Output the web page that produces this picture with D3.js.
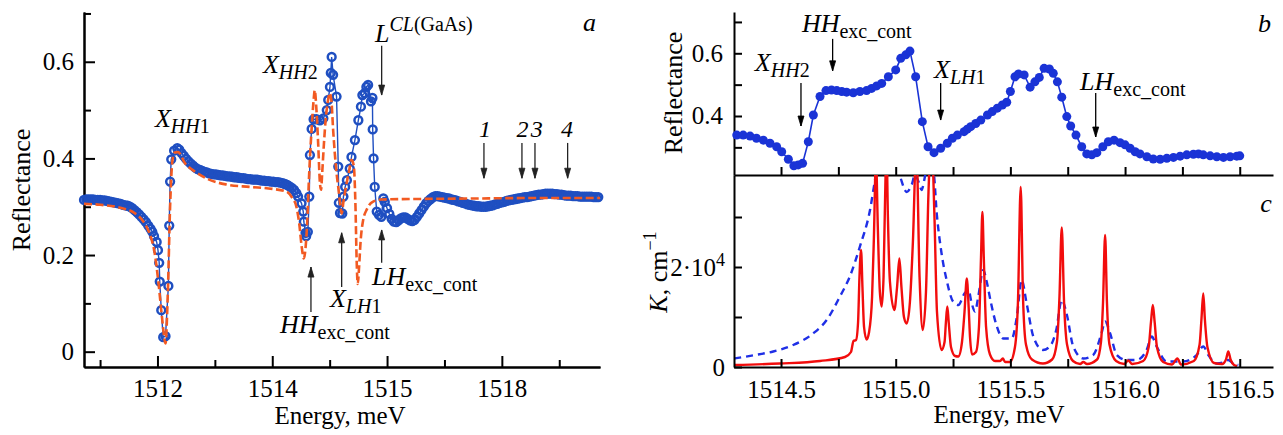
<!DOCTYPE html>
<html lang="en">
<head>
<meta charset="UTF-8">
<title>Reflectance and absorption spectra</title>
<script src="https://d3js.org/d3.v7.min.js"></script>
<style>
  body { margin: 0; background: #fff; }
  svg { display: block; }
  svg text { font-family: "Liberation Serif", serif; fill: #000; }
  .axis path, .axis line { stroke: #000; stroke-width: 2; }
  .axis text { font-size: 25px; }
</style>
</head>
<body>
<svg id="vis" width="1283" height="435"></svg>
<script>
// ---- panel a: measured reflectance (energy meV, R) ----
const measuredA = [
  [1510.72,.314],[1510.76,.315],[1510.80,.315],[1510.84,.315],[1510.88,.315],[1510.92,.314],[1510.96,.314],[1511.00,.314],
  [1511.04,.313],[1511.08,.313],[1511.12,.312],[1511.16,.311],[1511.20,.310],[1511.24,.309],[1511.28,.308],[1511.32,.307],
  [1511.36,.306],[1511.40,.304],[1511.44,.303],[1511.48,.302],[1511.52,.300],[1511.56,.297],[1511.60,.293],[1511.64,.289],
  [1511.68,.284],[1511.72,.279],[1511.76,.274],[1511.80,.268],[1511.84,.261],[1511.88,.254],[1511.91,.248],
  [1511.94,.239],[1511.986,.227],[1512.009,.210],[1512.03,.184],[1512.04,.145],[1512.066,.086],[1512.10,.030],[1512.14,.032],
  [1512.19,.136],[1512.205,.261],[1512.22,.352],[1512.24,.398],[1512.29,.416],[1512.345,.421],
  [1512.38,.418],[1512.42,.411],[1512.46,.405],[1512.50,.399],[1512.54,.394],[1512.58,.389],[1512.62,.385],[1512.66,.381],
  [1512.70,.378],[1512.74,.376],[1512.78,.374],[1512.82,.372],[1512.86,.371],[1512.90,.369],[1512.94,.368],[1512.98,.367],
  [1513.02,.367],[1513.06,.366],[1513.10,.365],[1513.14,.365],[1513.18,.364],[1513.22,.363],[1513.26,.363],[1513.30,.362],
  [1513.34,.361],[1513.38,.361],[1513.42,.360],[1513.46,.359],[1513.50,.359],[1513.54,.358],[1513.58,.357],[1513.62,.357],
  [1513.66,.356],[1513.70,.356],[1513.74,.356],[1513.78,.355],[1513.82,.354],[1513.86,.354],[1513.90,.353],[1513.94,.353],
  [1513.98,.352],[1514.02,.352],[1514.06,.351],[1514.10,.351],[1514.14,.350],[1514.18,.349],[1514.22,.347],[1514.26,.345],
  [1514.30,.342],[1514.34,.339],[1514.38,.335],[1514.42,.328],
  [1514.45,.321],[1514.51,.307],[1514.54,.290],[1514.55,.269],[1514.58,.246],[1514.59,.239],[1514.62,.248],[1514.645,.321],
  [1514.656,.407],[1514.686,.461],[1514.72,.481],[1514.77,.481],[1514.83,.479],[1514.89,.483],[1514.95,.500],[1514.975,.521],
  [1515.005,.548],[1515.02,.577],[1515.035,.610],[1515.06,.573],[1515.12,.528],[1515.15,.383],[1515.16,.308],[1515.18,.287],
  [1515.22,.286],[1515.24,.321],[1515.27,.341],[1515.30,.355],[1515.35,.379],[1515.38,.403],[1515.44,.438],[1515.50,.479],
  [1515.545,.507],[1515.57,.531],[1515.61,.535],[1515.64,.548],[1515.67,.552],[1515.72,.518],[1515.745,.525],[1515.75,.460],
  [1515.765,.400],[1515.785,.341],[1515.82,.290],[1515.86,.283],[1515.90,.279],[1515.935,.317],
  [1515.96,.310],[1516.00,.297],[1516.04,.285],[1516.08,.275],[1516.12,.269],[1516.16,.268],[1516.20,.272],[1516.24,.276],
  [1516.28,.278],[1516.32,.278],[1516.36,.275],[1516.40,.272],[1516.44,.270],[1516.48,.273],[1516.52,.279],[1516.56,.286],
  [1516.60,.293],[1516.64,.300],[1516.68,.307],[1516.72,.312],[1516.76,.316],[1516.80,.320],[1516.84,.322],[1516.88,.322],
  [1516.92,.321],[1516.96,.320],[1517.00,.319],[1517.04,.318],[1517.08,.317],[1517.12,.315],[1517.16,.314],[1517.20,.313],
  [1517.24,.311],[1517.28,.310],[1517.32,.308],[1517.36,.307],[1517.40,.305],[1517.44,.304],[1517.48,.303],[1517.52,.302],
  [1517.56,.301],[1517.60,.301],[1517.64,.300],[1517.68,.300],[1517.72,.300],[1517.76,.301],[1517.80,.302],[1517.84,.303],
  [1517.88,.305],[1517.92,.306],[1517.96,.308],[1518.00,.309],[1518.04,.310],[1518.08,.312],[1518.12,.313],[1518.16,.314],
  [1518.20,.315],[1518.24,.316],[1518.28,.317],[1518.32,.318],[1518.36,.319],[1518.40,.320],[1518.44,.320],[1518.48,.321],
  [1518.52,.322],[1518.56,.323],[1518.60,.324],[1518.64,.325],[1518.68,.325],[1518.72,.326],[1518.76,.327],[1518.80,.327],
  [1518.84,.327],[1518.88,.327],[1518.92,.326],[1518.96,.326],[1519.00,.325],[1519.04,.325],[1519.08,.324],[1519.12,.323],
  [1519.16,.323],[1519.20,.323],[1519.24,.322],[1519.28,.322],[1519.32,.322],[1519.36,.321],[1519.40,.321],[1519.44,.321],
  [1519.48,.321],[1519.52,.321],[1519.56,.321],[1519.60,.320],[1519.64,.320],[1519.68,.320]
];

// ---- panel a: calculated reflectance ----
const calcA = [
  [1510.72,.306],[1511.0,.304],[1511.35,.298],[1511.6,.287],[1511.75,.270],[1511.85,.248],[1511.95,.205],[1512.02,.140],
  [1512.08,.070],[1512.14,.017],[1512.18,.120],[1512.22,.300],[1512.26,.395],[1512.30,.412],[1512.36,.413],[1512.48,.390],
  [1512.65,.373],[1512.9,.356],[1513.2,.346],[1513.6,.341],[1514.0,.337],[1514.25,.331],[1514.35,.318],[1514.42,.300],
  [1514.47,.265],[1514.51,.220],[1514.55,.193],[1514.58,.215],[1514.61,.270],[1514.64,.360],[1514.68,.450],[1514.72,.520],
  [1514.74,.541],[1514.77,.500],[1514.80,.430],[1514.83,.350],[1514.85,.335],[1514.87,.370],[1514.90,.430],[1514.93,.480],
  [1514.965,.515],[1515.0,.535],[1515.03,.520],[1515.06,.460],[1515.09,.410],[1515.12,.370],[1515.15,.340],[1515.19,.300],
  [1515.21,.286],[1515.24,.310],[1515.29,.345],[1515.34,.375],[1515.38,.397],[1515.42,.385],[1515.45,.300],[1515.47,.190],
  [1515.49,.140],[1515.51,.170],[1515.54,.230],[1515.58,.270],[1515.65,.295],[1515.75,.310],[1515.9,.315],[1516.5,.316],
  [1517.5,.317],[1518.5,.318],[1519.71,.318]
];

// ---- panel b: measured reflectance, fine scan ----
const measuredB = [
  [1514.307,.339],[1514.335,.339],[1514.365,.336],[1514.393,.329],[1514.423,.323],[1514.452,.313],[1514.481,.302],
  [1514.503,.286],[1514.532,.262],[1514.556,.241],[1514.575,.244],[1514.594,.249],[1514.619,.318],[1514.641,.403],
  [1514.67,.462],[1514.696,.481],[1514.72,.483],[1514.743,.481],[1514.765,.478],[1514.786,.476],[1514.815,.474],
  [1514.844,.478],[1514.873,.481],[1514.895,.488],[1514.917,.496],[1514.939,.504],[1514.968,.525],[1515.0,.547],
  [1515.022,.584],[1515.044,.595],[1515.062,.607],[1515.087,.525],[1515.116,.382],[1515.141,.302],[1515.167,.283],
  [1515.196,.297],[1515.225,.313],[1515.247,.329],[1515.269,.339],[1515.298,.350],[1515.312,.358],[1515.327,.366],
  [1515.349,.376],[1515.371,.387],[1515.40,.403],[1515.421,.414],[1515.443,.425],[1515.465,.435],[1515.484,.444],
  [1515.50,.478],[1515.52,.525],[1515.535,.534],[1515.56,.531],[1515.586,.492],[1515.607,.509],[1515.626,.523],
  [1515.647,.552],[1515.67,.550],[1515.687,.536],[1515.705,.509],[1515.724,.460],[1515.746,.398],[1515.763,.368],
  [1515.786,.339],[1515.811,.302],[1515.833,.279],[1515.855,.276],[1515.877,.283],[1515.903,.302],[1515.927,.318],
  [1515.952,.323],[1515.978,.315],[1516.0,.308],[1516.022,.297],[1516.044,.286],[1516.065,.279],[1516.095,.270],
  [1516.123,.263],[1516.153,.262],[1516.182,.265],[1516.211,.268],[1516.24,.272],[1516.269,.276],[1516.298,.278],
  [1516.32,.279],[1516.341,.276],[1516.371,.273],[1516.40,.270],[1516.429,.268],[1516.458,.270],[1516.487,.272],
  [1516.50,.273]
];

// ---- panel c: absorption coefficient, units of 1e4 cm^-1 ----
const absorptionSharp = [
  [1514.296,.04],[1514.495,.07],[1514.67,.12],[1514.779,.2],[1514.805,.3],[1514.816,.52],[1514.827,.54],[1514.836,.9],
  [1514.842,1.8],[1514.849,2.34],[1514.855,1.6],[1514.862,.8],[1514.873,.55],[1514.884,.7],[1514.897,1.4],[1514.905,2.6],
  [1514.914,4.2],[1514.922,2.8],[1514.931,1.5],[1514.939,1.21],[1514.947,1.8],[1514.953,3.2],[1514.96,4.4],[1514.966,3.0],
  [1514.975,1.7],[1514.994,1.14],[1515.006,1.6],[1515.016,2.17],[1515.025,1.6],[1515.036,1.0],[1515.048,.87],[1515.062,1.3],
  [1515.075,2.5],[1515.09,4.4],[1515.104,1.8],[1515.118,.74],[1515.132,1.5],[1515.143,3.5],[1515.156,4.6],[1515.169,3.0],
  [1515.18,1.1],[1515.2,.34],[1515.213,.5],[1515.219,.9],[1515.225,1.21],[1515.231,.9],[1515.241,.4],[1515.259,.22],
  [1515.273,.21],[1515.289,.5],[1515.3,1.1],[1515.31,1.77],[1515.318,1.2],[1515.324,.6],[1515.333,.25],[1515.35,.3],
  [1515.363,.8],[1515.372,2.2],[1515.378,3.1],[1515.384,2.2],[1515.394,.8],[1515.411,.25],[1515.433,.12],[1515.455,.12],
  [1515.467,.17],[1515.477,.1],[1515.498,.1],[1515.52,.4],[1515.533,1.3],[1515.545,3.6],[1515.555,1.4],[1515.568,.45],
  [1515.594,.15],[1515.642,.07],[1515.682,.15],[1515.703,.5],[1515.714,1.4],[1515.724,2.79],[1515.734,1.3],[1515.747,.45],
  [1515.773,.12],[1515.804,.06],[1515.818,.1],[1515.834,.06],[1515.878,.15],[1515.895,.5],[1515.904,1.3],[1515.913,2.64],
  [1515.921,1.3],[1515.932,.45],[1515.961,.12],[1515.996,.06],[1516.014,.13],[1516.031,.06],[1516.079,.12],[1516.103,.4],
  [1516.113,.9],[1516.121,1.24],[1516.129,.9],[1516.139,.4],[1516.166,.1],[1516.205,.05],[1516.228,.17],[1516.244,.05],
  [1516.3,.12],[1516.325,.45],[1516.333,.95],[1516.341,1.47],[1516.348,.95],[1516.359,.4],[1516.388,.08],[1516.423,.06],
  [1516.44,.15],[1516.45,.31],[1516.46,.15],[1516.475,.04],[1516.488,.02]
];

const absorptionBroad = [
  [1514.296,.17],[1514.40,.25],[1514.466,.31],[1514.553,.44],[1514.64,.67],[1514.699,.94],[1514.757,1.41],[1514.80,1.81],
  [1514.844,2.41],[1514.888,3.14],[1514.91,3.74],[1514.93,4.2],[1514.96,4.4],[1515.0,4.1],[1515.02,3.8],[1515.048,3.5],
  [1515.07,3.65],[1515.084,3.84],[1515.10,3.7],[1515.113,3.54],[1515.125,3.75],[1515.14,4.1],[1515.165,3.9],[1515.179,3.07],
  [1515.20,2.27],[1515.222,1.74],[1515.25,1.31],[1515.273,1.24],[1515.30,1.47],[1515.318,1.54],[1515.33,1.3],[1515.346,1.11],
  [1515.36,1.41],[1515.382,1.94],[1515.395,1.74],[1515.416,1.27],[1515.437,.87],[1515.47,.57],[1515.506,.57],[1515.528,1.0],
  [1515.549,1.74],[1515.571,1.27],[1515.60,.61],[1515.642,.34],[1515.672,.41],[1515.70,.74],[1515.724,1.34],[1515.745,1.07],
  [1515.774,.41],[1515.818,.17],[1515.861,.24],[1515.897,.67],[1515.913,.91],[1515.935,.67],[1515.964,.24],[1516.007,.14],
  [1516.05,.14],[1516.094,.34],[1516.116,.61],[1516.138,.41],[1516.181,.11],[1516.254,.11],[1516.312,.24],[1516.341,.41],
  [1516.363,.24],[1516.399,.07],[1516.428,.09],[1516.45,.14],[1516.472,.07],[1516.494,.04]
];

// ticks
const xMajorA = [1512, 1514, 1516, 1518];
const xLabelsA = ["1512", "1514", "1515", "1518"];
const xMinorA = [1511, 1513, 1515, 1517, 1519];
const yMajorA = [0, 0.2, 0.4, 0.6];
const yLabelsA = ["0", "0.2", "0.4", "0.6"];
const yMinorA = [0.1, 0.3, 0.5, 0.7];
const xTicksBC = [1514.5, 1514.75, 1515, 1515.25, 1515.5, 1515.75, 1516, 1516.25, 1516.5];
const yTicksB = [0.3, 0.4, 0.5, 0.6, 0.7];
const yTicksC = [0, 1, 2, 3];

const svg = d3.select("#vis");

// scales
const xA = d3.scaleLinear().domain([1510.72, 1519.71]).range([84, 600]);
const yA = d3.scaleLinear().domain([-0.0317, 0.703]).range([367, 12]);
const xBC = d3.scaleLinear().domain([1514.295, 1516.645]).range([734, 1273]);
const yB = d3.scaleLinear().domain([0.2118, 0.7317]).range([175, 12]);
const yC = d3.scaleLinear().domain([0, 3.84]).range([367, 175]);

// rich text helper: parts = [[text, kind]], kind: i/r main, si/sr subscript, pi/pr superscript
function rich(g, x, y, parts, size = 26, small = 20) {
  const t = g.append("text").attr("x", x).attr("y", y).style("font-size", size + "px");
  let cur = 0;
  parts.forEach(([s, kind]) => {
    const sub = kind[0] === "s", sup = kind[0] === "p";
    const shift = sub ? 6 : sup ? -11 : 0;
    t.append("tspan")
      .attr("dy", shift - cur)
      .style("font-size", (sub || sup ? small : size) + "px")
      .style("font-style", kind.endsWith("i") ? "italic" : "normal")
      .text(s);
    cur = shift;
  });
  return t;
}

function arrow(g, x, y0, y1, color = "#222") {
  g.append("line").attr("x1", x).attr("x2", x).attr("y1", y0).attr("y2", y1)
    .attr("stroke", color).attr("stroke-width", 1.3);
  const dir = y1 > y0 ? 1 : -1;
  g.append("path")
    .attr("d", `M${x - 3},${y1 - dir * 10} L${x},${y1} L${x + 3},${y1 - dir * 10} Z`)
    .attr("fill", color).attr("stroke", color).attr("stroke-width", 0.8);
}

// ================= panel a =================
const gA = svg.append("g");

gA.append("g").attr("class", "axis")
  .attr("transform", "translate(0,367)")
  .call(d3.axisBottom(xA).tickValues(xMinorA).tickSize(-7).tickSizeOuter(0).tickFormat(""));
gA.append("g").attr("class", "axis")
  .attr("transform", "translate(0,367)")
  .call(d3.axisBottom(xA).tickValues(xMajorA).tickSize(-11).tickSizeOuter(0).tickPadding(12)
    .tickFormat((d, i) => xLabelsA[i]));
gA.append("g").attr("class", "axis")
  .attr("transform", "translate(84,0)")
  .call(d3.axisLeft(yA).tickValues(yMinorA).tickSize(-7).tickSizeOuter(0).tickFormat(""));
gA.append("g").attr("class", "axis")
  .attr("transform", "translate(84,0)")
  .call(d3.axisLeft(yA).tickValues(yMajorA).tickSize(-11).tickSizeOuter(0).tickPadding(10)
    .tickFormat((d, i) => yLabelsA[i]));

gA.append("text").attr("transform", "translate(30,190) rotate(-90)")
  .attr("text-anchor", "middle").style("font-size", "26px")
  .text("Reflectance");
gA.append("text").attr("x", 340).attr("y", 424)
  .attr("text-anchor", "middle").style("font-size", "25px")
  .text("Energy, meV");

const lineA = d3.line().x(d => xA(d[0])).y(d => yA(d[1]));
gA.append("path").datum(measuredA).attr("d", lineA)
  .attr("fill", "none").attr("stroke", "#1f4fc1").attr("stroke-width", 1.4);
gA.append("g").selectAll("circle").data(measuredA).join("circle")
  .attr("cx", d => xA(d[0])).attr("cy", d => yA(d[1])).attr("r", 3.9)
  .attr("fill", "none").attr("stroke", "#1f4fc1").attr("stroke-width", 2.5);
gA.append("path").datum(calcA).attr("d", lineA.curve(d3.curveMonotoneX))
  .attr("fill", "none").attr("stroke", "#f25a22").attr("stroke-width", 2.6)
  .attr("stroke-dasharray", "8,3.5");

// annotations a
rich(gA, xA(1511.956), yA(0.466), [["X", "i"], ["HH", "si"], ["1", "sr"]]);
rich(gA, xA(1513.838), yA(0.576), [["X", "i"], ["HH", "si"], ["2", "sr"]]);
rich(gA, xA(1515.789), yA(0.641), [["L", "i"], ["CL", "pi"], ["(GaAs)", "pr"]]);
arrow(gA, xA(1515.906), yA(0.633), yA(0.531));
rich(gA, xA(1519.413), yA(0.664), [["a", "i"]]);
const numbered = [["1", 1517.706, 1517.688], ["2", 1518.36, 1518.35], ["3", 1518.61, 1518.577], ["4", 1519.134, 1519.146]];
numbered.forEach(([s, lx, ax]) => {
  rich(gA, xA(lx), yA(0.444), [[s, "i"]], 24).attr("text-anchor", "middle");
  arrow(gA, xA(ax), yA(0.432), yA(0.359));
});
rich(gA, xA(1514.134), yA(0.039), [["HH", "i"], ["exc_cont", "sr"]]);
arrow(gA, xA(1514.674), yA(0.082), yA(0.175));
rich(gA, xA(1515.005), yA(0.092), [["X", "i"], ["LH", "si"], ["1", "sr"]]);
arrow(gA, xA(1515.209), yA(0.134), yA(0.246));
rich(gA, xA(1515.737), yA(0.138), [["LH", "i"], ["exc_cont", "sr"]]);
arrow(gA, xA(1515.906), yA(0.184), yA(0.252));

// ================= panel b =================
const gB = svg.append("g");
gB.append("g").attr("class", "axis")
  .attr("transform", "translate(0,175)")
  .call(d3.axisBottom(xBC).tickValues(xTicksBC).tickSize(-8).tickSizeOuter(0).tickFormat(""));
gB.append("g").attr("class", "axis")
  .attr("transform", "translate(734,0)")
  .call(d3.axisLeft(yB).tickValues(yTicksB).tickSize(-8).tickSizeOuter(0).tickPadding(11)
    .tickFormat(d => (Math.abs(d - 0.4) < 1e-6 || Math.abs(d - 0.6) < 1e-6) ? d3.format(".1f")(d) : ""));

gB.append("text").attr("transform", "translate(682,93) rotate(-90)")
  .attr("text-anchor", "middle").style("font-size", "26px")
  .text("Reflectance");

const lineB = d3.line().x(d => xBC(d[0])).y(d => yB(d[1]));
gB.append("path").datum(measuredB).attr("d", lineB)
  .attr("fill", "none").attr("stroke", "#1a33d6").attr("stroke-width", 1.6);
gB.append("g").selectAll("circle").data(measuredB).join("circle")
  .attr("cx", d => xBC(d[0])).attr("cy", d => yB(d[1])).attr("r", 4.5)
  .attr("fill", "#1a33d6");

rich(gB, xBC(1514.386), yB(0.544), [["X", "i"], ["HH", "si"], ["2", "sr"]]);
arrow(gB, xBC(1514.587), yB(0.505), yB(0.368), "#000");
rich(gB, xBC(1514.591), yB(0.668), [["HH", "i"], ["exc_cont", "sr"]]);
arrow(gB, xBC(1514.725), yB(0.646), yB(0.544), "#000");
rich(gB, xBC(1515.167), yB(0.521), [["X", "i"], ["LH", "si"], ["1", "sr"]]);
arrow(gB, xBC(1515.196), yB(0.505), yB(0.387), "#000");
rich(gB, xBC(1515.804), yB(0.483), [["LH", "i"], ["exc_cont", "sr"]]);
arrow(gB, xBC(1515.872), yB(0.473), yB(0.333), "#000");
rich(gB, xBC(1516.58), yB(0.668), [["b", "i"]]);

// ================= panel c =================
const gC = svg.append("g");
svg.append("defs").append("clipPath").attr("id", "clipC")
  .append("rect").attr("x", 734).attr("y", 175).attr("width", 539).attr("height", 192);

const lineC = d3.line().x(d => xBC(d[0])).y(d => yC(d[1])).curve(d3.curveMonotoneX);
const plotC = gC.append("g").attr("clip-path", "url(#clipC)");
plotC.append("path").datum(absorptionBroad).attr("d", lineC)
  .attr("fill", "none").attr("stroke", "#1f2fe6").attr("stroke-width", 2.4)
  .attr("stroke-dasharray", "7,5");
plotC.append("path").datum(absorptionSharp).attr("d", lineC)
  .attr("fill", "none").attr("stroke", "#f20d0d").attr("stroke-width", 2.4);

gC.append("g").attr("class", "axis")
  .attr("transform", "translate(0,367)")
  .call(d3.axisBottom(xBC).tickValues(xTicksBC).tickSize(-8).tickSizeOuter(0).tickPadding(13)
    .tickFormat(d => Math.abs(d * 2 - Math.round(d * 2)) < 1e-6 ? d3.format(".1f")(d) : ""));
const yAxisC = gC.append("g").attr("class", "axis")
  .attr("transform", "translate(734,0)")
  .call(d3.axisLeft(yC).tickValues(yTicksC).tickSize(-8).tickSizeOuter(0).tickPadding(9)
    .tickFormat(d => d === 0 ? "0" : ""));
yAxisC.selectAll(".tick text").filter(d => d === 2).each(function () {
  const t = d3.select(this);
  t.append("tspan").text("2·10");
  t.append("tspan").attr("dy", -10).style("font-size", "18px").text("4");
});

rich(gC, 0, 0, [["K", "i"], [", cm", "r"], ["−1", "pr"]], 26, 18)
  .attr("x", null).attr("y", null)
  .attr("text-anchor", "middle")
  .attr("transform", "translate(667,272) rotate(-90)");
gC.append("text").attr("x", 999).attr("y", 423)
  .attr("text-anchor", "middle").style("font-size", "25px")
  .text("Energy, meV");
rich(gC, xBC(1516.589), yC(3.1), [["c", "i"]]);
</script>
</body>
</html>
